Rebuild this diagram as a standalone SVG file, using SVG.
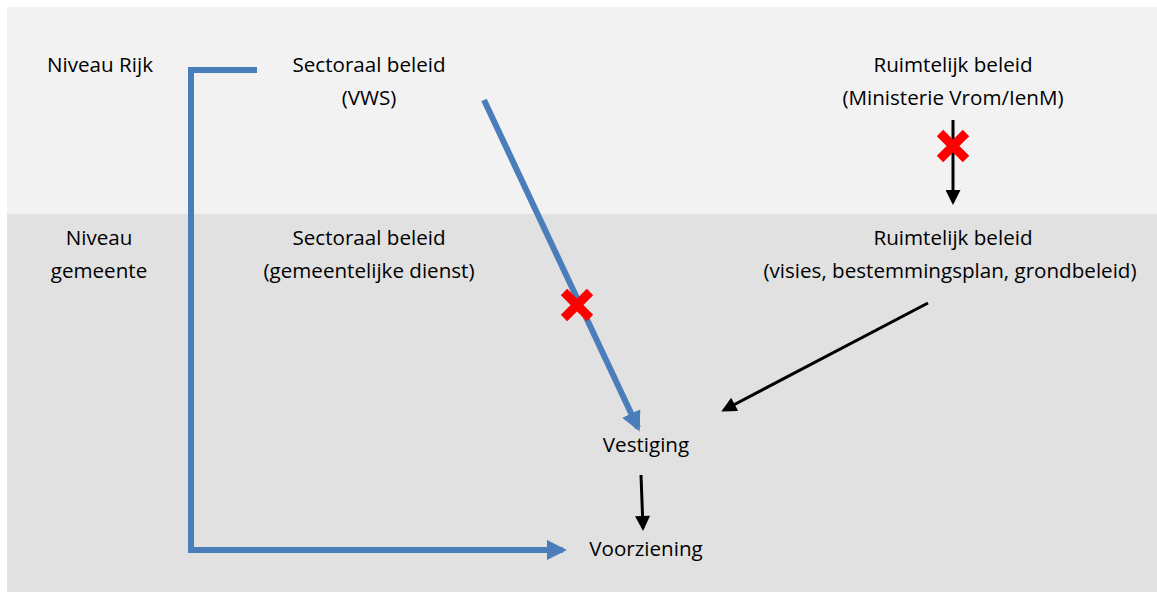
<svg xmlns="http://www.w3.org/2000/svg" width="1157" height="592" viewBox="0 0 1157 592">
<defs>
<style>
text{font-family:"Open Sans","Liberation Sans",sans-serif;font-size:20.6px;fill:#000;text-anchor:middle}
.blue{fill:none;stroke:#4a7ebb;stroke-width:6}
.black{fill:none;stroke:#000;stroke-width:3}
.cross{stroke:#ff0000;stroke-width:9}
</style>
<marker id="ab" viewBox="0 0 10 10" refX="8" refY="5" markerUnits="userSpaceOnUse" markerWidth="20" markerHeight="20" orient="auto"><path d="M0,0 L10,5 L0,10 Z" fill="#4a7ebb"/></marker>
<marker id="ak" viewBox="0 0 10 10" refX="8" refY="5" markerUnits="userSpaceOnUse" markerWidth="16" markerHeight="15" orient="auto"><path d="M0,0 L10,5 L0,10 Z" fill="#000"/></marker>
</defs>
<rect x="7" y="7" width="1150" height="207" fill="#f2f2f2"/>
<rect x="7" y="214" width="1150" height="378" fill="#e1e1e1"/>
<g id="niveau-rijk"><text x="100" y="72">Niveau Rijk</text></g>
<g id="niveau-gemeente"><text x="99" y="245">Niveau</text><text x="99" y="278">gemeente</text></g>
<g id="sectoraal-rijk"><text x="369" y="72">Sectoraal beleid</text><text x="369" y="105">(VWS)</text></g>
<g id="ruimtelijk-rijk"><text x="953" y="72">Ruimtelijk beleid</text><text x="953" y="105">(Ministerie Vrom/IenM)</text></g>
<g id="sectoraal-gemeente"><text x="369" y="245">Sectoraal beleid</text><text x="369" y="278">(gemeentelijke dienst)</text></g>
<g id="ruimtelijk-gemeente"><text x="953" y="245">Ruimtelijk beleid</text><text x="950" y="278">(visies, bestemmingsplan, grondbeleid)</text></g>
<g id="vestiging"><text x="646" y="452">Vestiging</text></g>
<g id="voorziening"><text x="646" y="556">Voorziening</text></g>
<g id="connectors">
<path class="blue" d="M257,70 H191 V550 H563" marker-end="url(#ab)"/>
<path class="blue" d="M484,100 L638,428" marker-end="url(#ab)"/>
<path class="black" d="M953,120 V202" marker-end="url(#ak)"/>
<path class="black" d="M928,303 L724,410" marker-end="url(#ak)"/>
<path class="black" d="M641,475 L643,528" marker-end="url(#ak)"/>
<g class="cross"><path d="M564,292 L590,318 M590,292 L564,318"/><path d="M940,133 L966,159 M966,133 L940,159"/></g>
</g>
</svg>
